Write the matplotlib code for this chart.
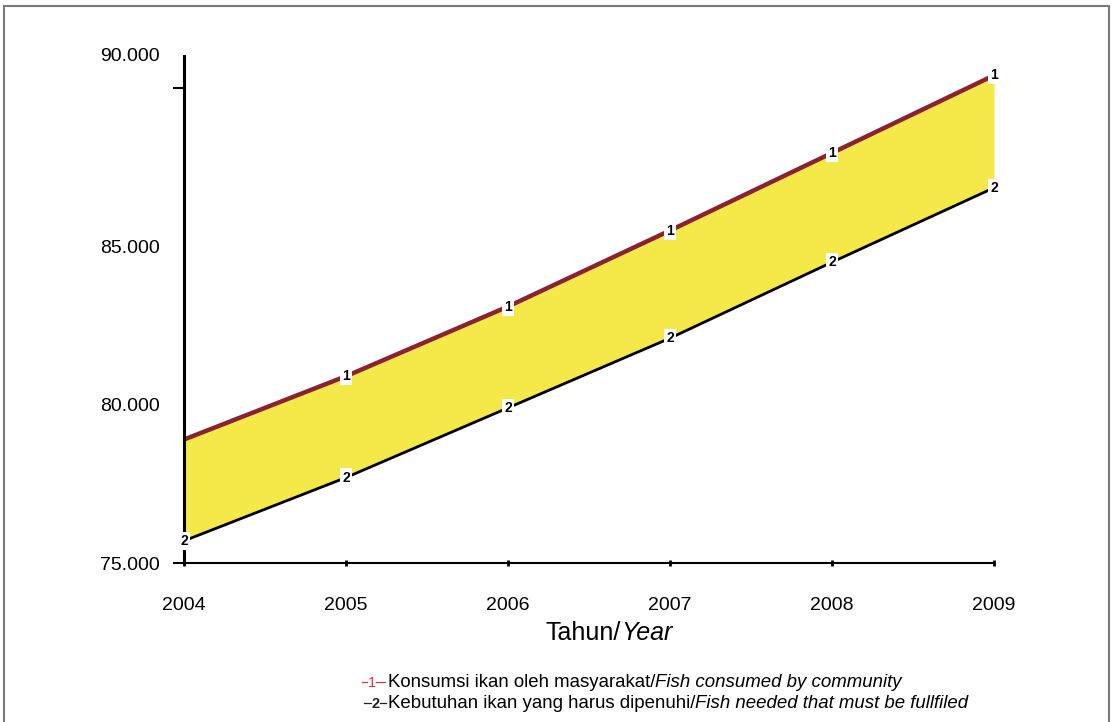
import matplotlib
matplotlib.use("Agg")
import matplotlib.pyplot as plt
from matplotlib.lines import Line2D
from matplotlib.patches import Rectangle

plt.rcParams['font.family'] = ['Liberation Sans', 'DejaVu Sans']

# data (tonnes)
years = [2004, 2005, 2006, 2007, 2008, 2009]
konsumsi = [78900, 80900, 83100, 85500, 87950, 90400]     # series 1
kebutuhan = [75700, 77700, 79900, 82100, 84500, 86850]    # series 2
ytick_vals = [75000, 80000, 85000, 90000]
ytick_labels = ["75.000", "80.000", "85.000", "90.000"]

fig = plt.figure(figsize=(11.12, 7.22), dpi=100)
ax = fig.add_axes([0.1655, 0.2202, 0.7284, 0.7022])

# yellow band between the two series
ax.fill_between(years, kebutuhan, konsumsi, color="#f5e94a", linewidth=0, zorder=1)
ax.plot(years, konsumsi, color="#8a2232", linewidth=3.2, zorder=2)
ax.plot(years, kebutuhan, color="black", linewidth=2, zorder=2)

# numbered point markers
for x, y in zip(years[1:], konsumsi[1:]):
    ax.text(x, y, "1", fontsize=10, fontweight="bold", ha="center", va="center", zorder=3,
            bbox=dict(boxstyle="square,pad=0.15", fc="white", ec="none"))
for x, y in zip(years, kebutuhan):
    ax.text(x, y, "2", fontsize=10, fontweight="bold", ha="center", va="center", zorder=3,
            bbox=dict(boxstyle="square,pad=0.15", fc="white", ec="none"), clip_on=False)

ax.set_xlim(2004, 2009)
ax.set_ylim(75000, 91010)

for side in ["top", "right"]:
    ax.spines[side].set_visible(False)
ax.spines["left"].set_linewidth(2.2)
ax.spines["bottom"].set_linewidth(1.5)

ax.set_xticks(years)
ax.set_xticklabels([str(y) for y in years])
ax.tick_params(axis="x", direction="inout", length=5, width=2, pad=22, labelsize=14)

ax.set_yticks(ytick_vals)
ax.set_yticklabels(ytick_labels[:3] + [""])
ax.tick_params(axis="y", direction="out", length=8, width=1.5, pad=9.5, labelsize=14)
ticks = ax.yaxis.get_major_ticks()
ticks[1].tick1line.set_visible(False)
ticks[2].tick1line.set_visible(False)

# top label sits at the top of the axis
ax.annotate(ytick_labels[3], xy=(0, 1), xycoords="axes fraction", xytext=(-17.5, 0),
            textcoords="offset points", ha="right", va="center", fontsize=14)

# x axis title: "Tahun/" + italic "Year"
t1 = fig.text(0.491, 0.113, "Tahun/", fontsize=18, ha="left", va="baseline")
ax.annotate("Year", xy=(1, 0), xycoords=t1, fontsize=18, style="italic",
            ha="left", va="bottom")

# legend
fs = 13.4
y1, y2 = 0.049, 0.020
fig.add_artist(Line2D([0.3255, 0.3300], [y1 + 0.006] * 2, color="#e8303a", lw=0.9))
fig.text(0.3345, y1, "1", color="#e8303a", fontsize=10.5, ha="center", va="baseline")
fig.add_artist(Line2D([0.3385, 0.3460], [y1 + 0.006] * 2, color="#e8303a", lw=0.9))
a1 = fig.text(0.349, y1, "Konsumsi ikan oleh masyarakat/", fontsize=fs, ha="left", va="baseline")
ax.annotate("Fish consumed by community", xy=(1, 0), xycoords=a1, fontsize=fs,
            style="italic", ha="left", va="bottom")

fig.add_artist(Line2D([0.3275, 0.3335], [y2 + 0.006] * 2, color="#222222", lw=0.9))
fig.text(0.3375, y2, "2", color="#222222", fontsize=10.5, fontweight="bold", ha="center", va="baseline")
fig.add_artist(Line2D([0.3415, 0.3470], [y2 + 0.006] * 2, color="#222222", lw=0.9))
a2 = fig.text(0.349, y2, "Kebutuhan ikan yang harus dipenuhi/", fontsize=fs, ha="left", va="baseline")
ax.annotate("Fish needed that must be fullfiled", xy=(1, 0), xycoords=a2, fontsize=fs,
            style="italic", ha="left", va="bottom")

# page frame
fig.add_artist(Rectangle((0.004, -0.02), 0.993, 1.012, transform=fig.transFigure,
                         fill=False, edgecolor="#7a7a7a", linewidth=1.5))

fig.savefig("out.png", dpi=100)
